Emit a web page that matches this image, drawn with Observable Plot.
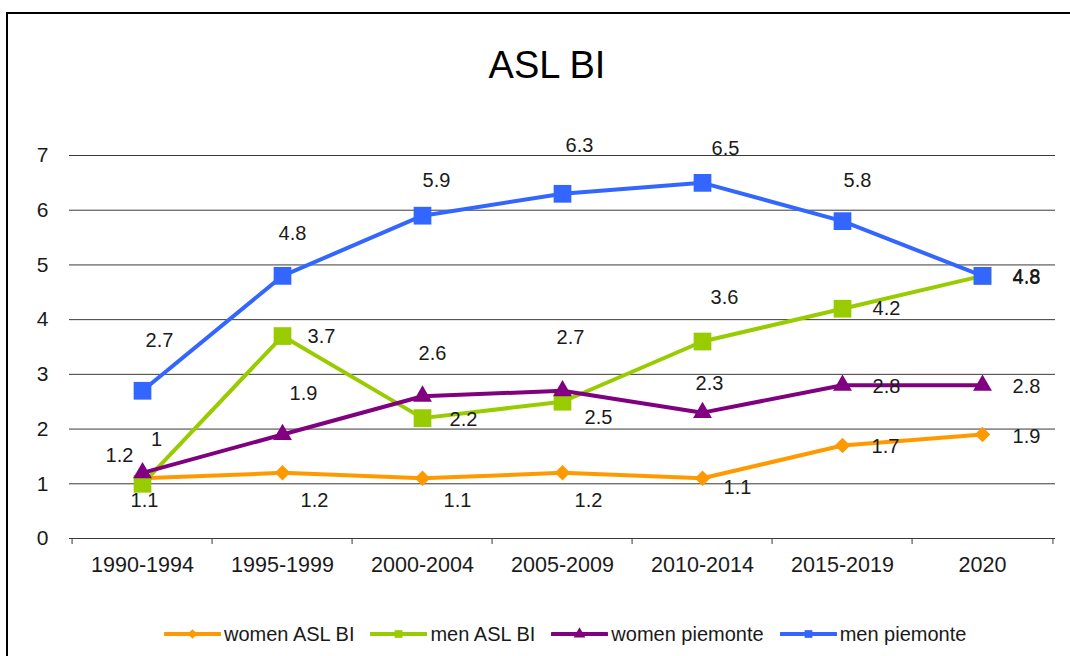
<!DOCTYPE html>
<html>
<head>
<meta charset="utf-8">
<script src="https://cdn.jsdelivr.net/npm/d3@7"></script>
<script src="https://cdn.jsdelivr.net/npm/@observablehq/plot@0.6"></script>
<style>
  html, body { margin: 0; padding: 0; background: #fff; width: 1070px; height: 656px; overflow: hidden; }
  body { position: relative; font-family: "Liberation Sans", Arial, sans-serif; color: #1a1a1a; }
  #frame { position: absolute; left: 6px; top: 12px; width: 1100px; height: 700px; border: 2px solid #000; box-sizing: border-box; }
  #title { position: absolute; left: 0; top: 46px; width: 1094px; text-align: center; font-size: 38px; line-height: 1; color: #000; }
  #chart { position: absolute; left: 0; top: 0; }
  #legend { position: absolute; left: 164px; top: 624px; display: flex; align-items: center; font-size: 20px; line-height: 1; color: #1a1a1a; }
  .item { display: flex; align-items: center; margin-right: 16px; }
  .item svg { margin-right: 3px; }
</style>
</head>
<body>
<div id="frame"></div>
<div id="title">ASL BI</div>
<div id="chart"></div>
<div id="legend"></div>
<script>
// ---- data ----
const categories = ["1990-1994", "1995-1999", "2000-2004", "2005-2009", "2010-2014", "2015-2019", "2020"];
const womenAslBi    = [1.1, 1.2, 1.1, 1.2, 1.1, 1.7, 1.9];
const menAslBi      = [1.0, 3.7, 2.2, 2.5, 3.6, 4.2, 4.8];
const womenPiemonte = [1.2, 1.9, 2.6, 2.7, 2.3, 2.8, 2.8];
const menPiemonte   = [2.7, 4.8, 5.9, 6.3, 6.5, 5.8, 4.8];
const yTicks = [0, 1, 2, 3, 4, 5, 6, 7];
const seriesNames = ["women ASL BI", "men ASL BI", "women piemonte", "men piemonte"];

// ---- styles / layout ----
const seriesColors  = ["#FF9900", "#99CC00", "#800080", "#3366FF"];
const seriesSymbols = ["diamond2", "square", "triangle", "square"];
const seriesRadius  = [7, 10, 7, 10];
// data-label offsets in pixels (dx, dy) as placed in the original chart
const labelOffsetsWomenAslBi    = [[2,22],[32,28],[35,22],[26,28],[35,9],[43,1],[44,2]];
const labelOffsetsMenAslBi      = [[14,-44],[39,1],[41,1],[36,16],[22,-44],[44,0],[44,1]];
const labelOffsetsWomenPiemonte = [[-23,-17],[21,-41],[10,-43],[8,-53],[7,-29],[44,1],[44,1]];
const labelOffsetsMenPiemonte   = [[17,-50],[10,-42],[14,-35],[17,-48],[23,-34],[15,-41],[44,2]];

const seriesValues = [womenAslBi, menAslBi, womenPiemonte, menPiemonte];
const seriesOffsets = [labelOffsetsWomenAslBi, labelOffsetsMenAslBi, labelOffsetsWomenPiemonte, labelOffsetsMenPiemonte];

const W = 1070, H = 600, ML = 69, MR = 15, MT = 155, MB = 62;
const bw = (W - ML - MR) / categories.length;
const font = "Liberation Sans, Arial, sans-serif";

const marks = [];
// gridlines
marks.push(Plot.ruleY(yTicks.slice(1), {stroke: "#3a3a3a", strokeWidth: 1}));
marks.push(Plot.ruleY([0], {stroke: "#3a3a3a", strokeWidth: 1}));
// axes
marks.push(Plot.axisY({ticks: yTicks, tickFormat: d3.format("d"), tickSize: 0, tickPadding: 21, fontSize: 21, label: null, fill: "#1a1a1a"}));
marks.push(Plot.axisX({tickSize: 0, tickPadding: 18, fontSize: 21.5, label: null, fill: "#1a1a1a"}));
marks.push(Plot.axisX({tickSize: 6, tickFormat: () => "", dx: -bw / 2, label: null, stroke: "#3a3a3a"}));
marks.push(Plot.axisX({ticks: [categories[categories.length - 1]], tickSize: 6, tickFormat: () => "", dx: bw / 2, label: null, stroke: "#3a3a3a"}));

seriesNames.forEach((name, s) => {
  const rows = categories.map((c, i) => ({cat: c, value: seriesValues[s][i], series: name}));
  marks.push(Plot.line(rows, {x: "cat", y: "value", stroke: seriesColors[s], strokeWidth: 4, strokeLinejoin: "round"}));
  marks.push(Plot.dot(rows, {x: "cat", y: "value", symbol: seriesSymbols[s], r: seriesRadius[s], fill: seriesColors[s], stroke: null}));
});
seriesNames.forEach((name, s) => {
  categories.forEach((c, i) => {
    const v = seriesValues[s][i];
    const [dx, dy] = seriesOffsets[s][i];
    marks.push(Plot.text([{cat: c, value: v}], {
      x: "cat", y: "value", text: d => String(d.value), dx, dy,
      fontSize: 20, fill: "#1a1a1a", textAnchor: "middle", lineAnchor: "middle"
    }));
  });
});

const chart = Plot.plot({
  width: W, height: H,
  marginLeft: ML, marginRight: MR, marginTop: MT, marginBottom: MB,
  style: {fontFamily: font, background: "transparent", overflow: "visible"},
  x: {type: "band", domain: categories, padding: 0, axis: null},
  y: {domain: [0, 7], axis: null},
  marks
});
document.getElementById("chart").appendChild(chart);

// ---- legend ----
const legend = document.getElementById("legend");
seriesNames.forEach((name, s) => {
  const item = document.createElement("div");
  item.className = "item";
  const svg = d3.create("svg").attr("width", 57).attr("height", 14);
  svg.append("line").attr("x1", 1).attr("x2", 56).attr("y1", 7).attr("y2", 7)
     .attr("stroke", seriesColors[s]).attr("stroke-width", 4).attr("stroke-linecap", "round");
  const symMap = {diamond2: d3.symbolDiamond2, square: d3.symbolSquare, triangle: d3.symbolTriangle};
  svg.append("path").attr("transform", "translate(28.5,7)")
     .attr("d", d3.symbol(symMap[seriesSymbols[s]], 60)())
     .attr("fill", seriesColors[s]);
  item.appendChild(svg.node());
  const span = document.createElement("span");
  span.textContent = name;
  item.appendChild(span);
  legend.appendChild(item);
});
</script>
</body>
</html>
